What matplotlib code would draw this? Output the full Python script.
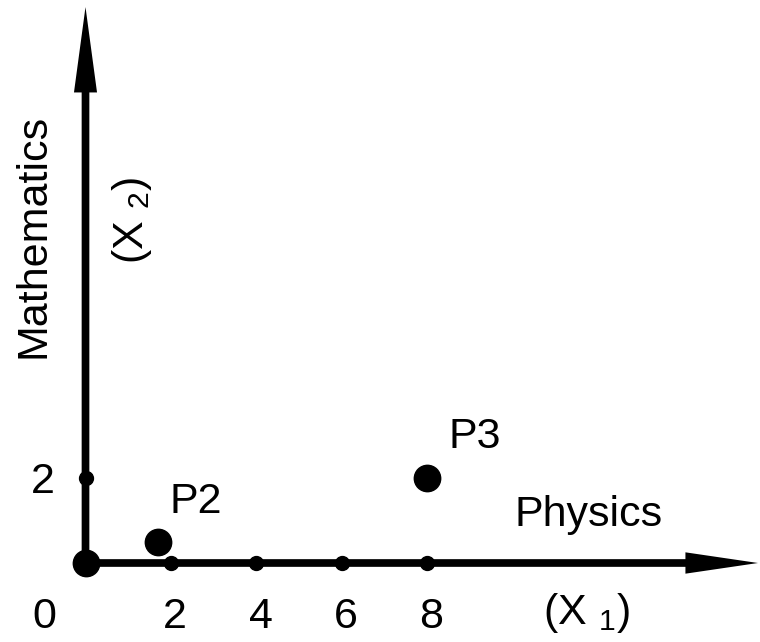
import matplotlib
matplotlib.use('Agg')
import matplotlib.pyplot as plt

plt.rcParams['font.family'] = ['Liberation Sans', 'DejaVu Sans']
plt.rcParams['mathtext.fontset'] = 'custom'
plt.rcParams['mathtext.rm'] = 'Liberation Sans'
plt.rcParams['mathtext.it'] = 'Liberation Sans'
plt.rcParams['mathtext.default'] = 'rm'

# marks on the axes
x_ticks = [2, 4, 6, 8]
y_ticks = [2]
# students: (physics, mathematics)
points = {'P2': (1.7, 0.5), 'P3': (8, 2)}

fig = plt.figure(figsize=(7.6, 6.42), dpi=100)
ax = fig.add_axes([0, 0, 1, 1])
sc = 42.7
ax.set_xlim(-85.5/sc, (760-85.5)/sc)
ax.set_ylim(-79/sc, (642-79)/sc)
ax.axis('off')

# axes with arrow heads
ax.arrow(0, 0, 15.75, 0, width=0.18, head_width=0.5, head_length=1.7,
         length_includes_head=True, fc='k', ec='none')
ax.arrow(0, 0, 0, 13.02, width=0.18, head_width=0.54, head_length=2.0,
         length_includes_head=True, fc='k', ec='none')

ax.plot(x_ticks, [0]*len(x_ticks), 'o', color='k', ms=10)
ax.plot([0]*len(y_ticks), y_ticks, 'o', color='k', ms=10)
ax.plot(0, 0, 'o', color='k', ms=19)

for name, (px, py) in points.items():
    ax.plot(px, py, 'o', color='k', ms=19)

fs = 31
ax.text(-0.97, -1.52, '0', fontsize=fs, ha='center', va='baseline')
for t in x_ticks:
    ax.text(t + 0.1, -1.52, str(t), fontsize=fs, ha='center', va='baseline')
for t in y_ticks:
    ax.text(-1.0, t - 0.36, str(t), fontsize=fs, ha='center', va='baseline')

ax.text(points['P2'][0] + 0.88, points['P2'][1] + 0.67, 'P2', fontsize=fs,
        ha='center', va='baseline')
ax.text(points['P3'][0] + 1.12, points['P3'][1] + 0.69, 'P3', fontsize=fs,
        ha='center', va='baseline')

ax.text(11.79, 0.87, 'Physics', fontsize=fs, ha='center', va='baseline')
ax.text(11.72, -1.43, r'(X $_1$)', fontsize=fs, ha='center', va='baseline')
ax.text(-0.95, 7.65, 'Mathematics', fontsize=fs, ha='center', va='baseline',
        rotation=90, rotation_mode='anchor')
ax.text(1.35, 8.03, r'(X $_2$)', fontsize=fs, ha='center', va='baseline',
        rotation=90, rotation_mode='anchor')

fig.savefig('out.png', dpi=100)
